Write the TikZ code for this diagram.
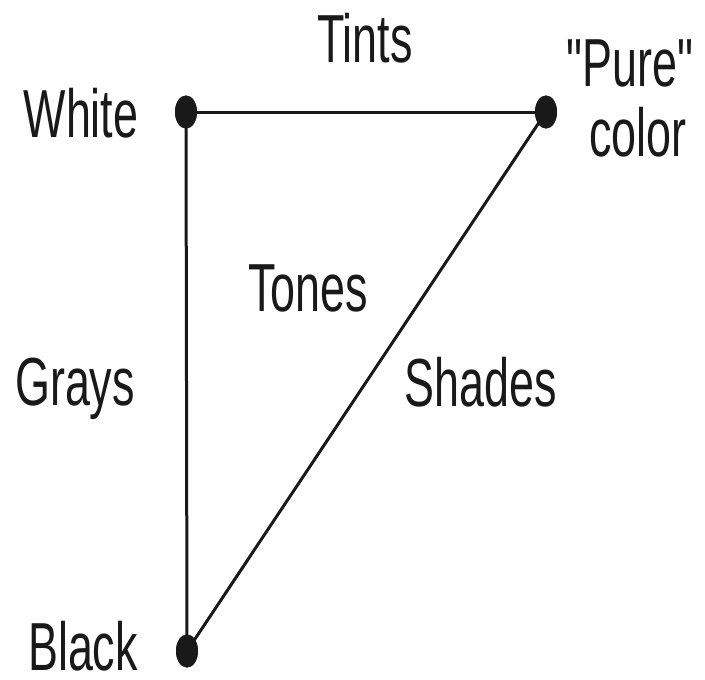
\documentclass[tikz,border=0pt]{standalone}
\usepackage{fontspec}
\setmainfont{Liberation Sans}
\usetikzlibrary{shapes.geometric}
\tikzset{
  dotnode/.style={ellipse, fill=black!90, draw=none, minimum width=22pt, minimum height=33pt, inner sep=0pt},
  lbl/.style={anchor=base, inner sep=0pt, text=black!90, font=\fontsize{68}{72}\selectfont},
  edge/.style={line width=3pt, black!90}
}
\newcommand{\cond}[1]{\scalebox{0.66}[1]{#1}}
\begin{document}
\begin{tikzpicture}[x=1pt,y=-1pt]
\useasboundingbox (0,0) rectangle (705,680);
\node[dotnode] (W) at (186,112) {};
\node[dotnode] (P) at (546,112) {};
\node[dotnode] (B) at (187,651) {};
\draw[edge] (W.center) -- (P.center);
\draw[edge] (W.center) -- (B.center);
\draw[edge] (P.center) -- (B.center);
\node[dotnode] at (W) {};
\node[dotnode] at (P) {};
\node[dotnode] at (B) {};
\node[lbl] (tints) at (365,62) {\cond{Tints}};
\node[lbl] (white) at (81,137) {\cond{White}};
\node[lbl] (pure) at (630,86) {\cond{\textquotedbl Pure\textquotedbl}};
\node[lbl] (color) at (638,156) {\cond{color}};
\node[lbl] (tones) at (308,311) {\cond{Tones}};
\node[lbl] (grays) at (75,405) {\cond{Grays}};
\node[lbl] (shades) at (481,406) {\cond{Shades}};
\node[lbl] (black) at (83,670) {\cond{Black}};
\end{tikzpicture}
\end{document}
